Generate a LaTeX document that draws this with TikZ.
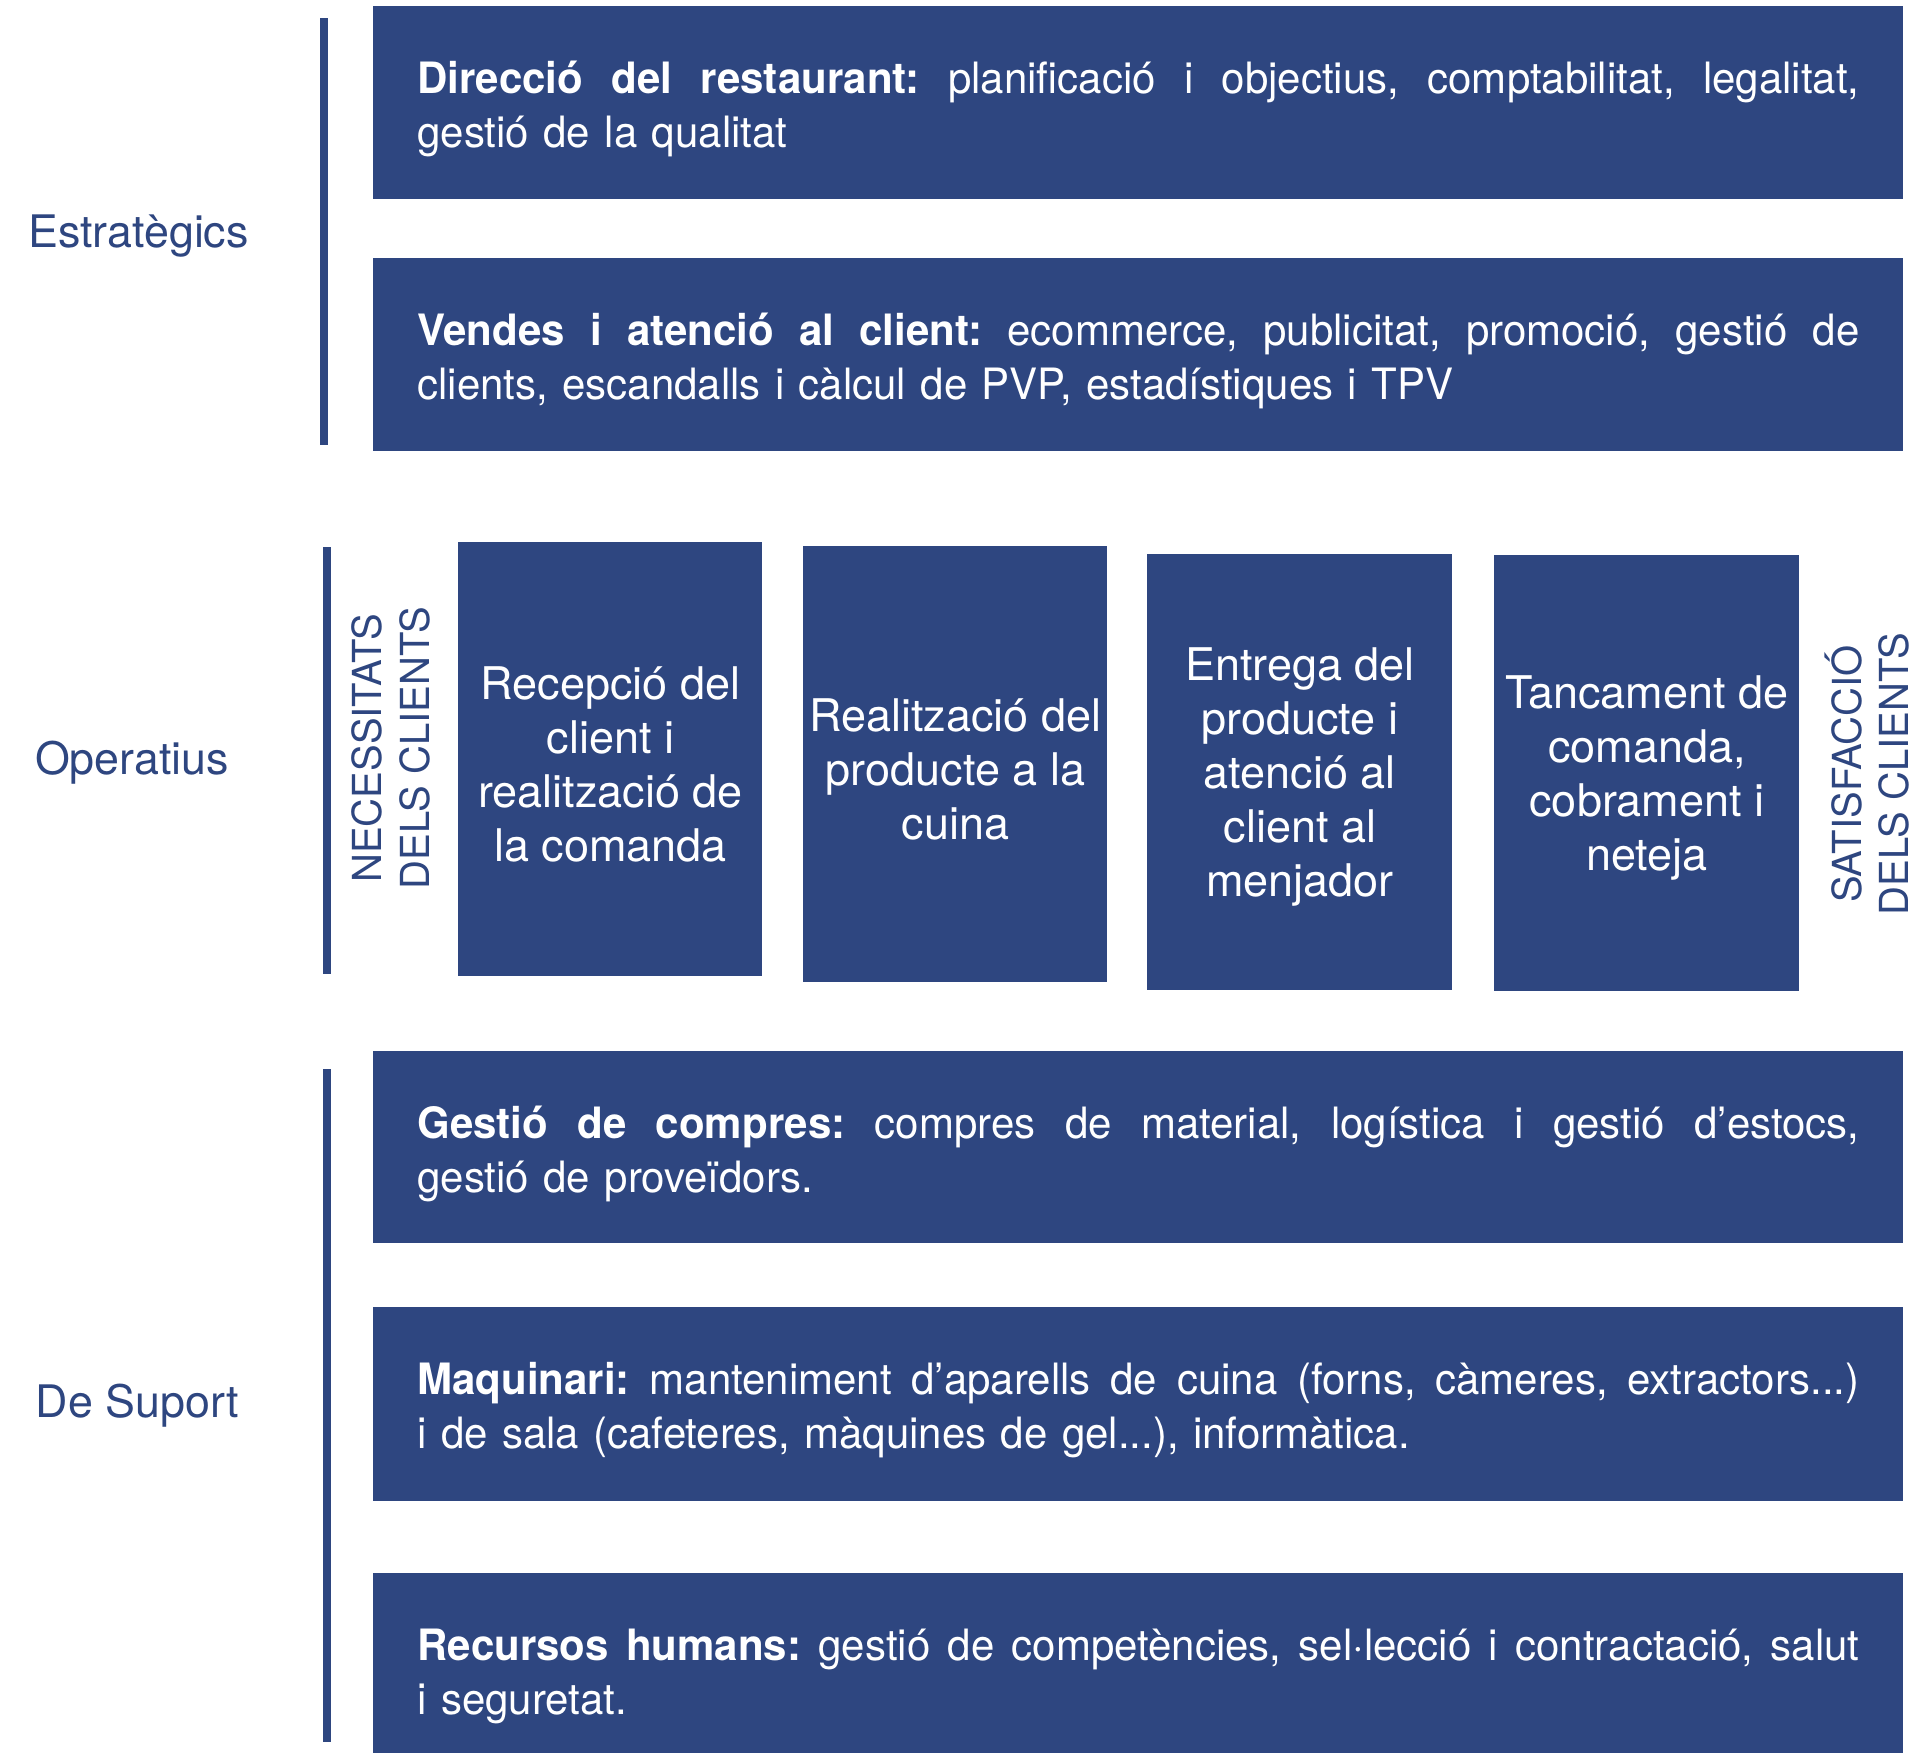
\documentclass[tikz,border=0pt]{standalone}
\usepackage{fontspec}
\setmainfont{TeX Gyre Heros}
\newfontfamily\boxfont{TeX Gyre Heros}[FakeStretch=0.972]
\usetikzlibrary{calc}
\definecolor{navy}{RGB}{46,70,128}
\newcommand{\firstline}[1]{\makebox[721pt][s]{\spaceskip=0pt\xspaceskip=0pt #1}}
\begin{document}
\begin{tikzpicture}[x=0.5pt,y=-0.5pt,
  box/.style={fill=navy, draw=none, inner sep=0pt, anchor=north west},
  widebox/.style={box, minimum width=765pt, minimum height=96.5pt},
  tallbox/.style={box, minimum width=152.5pt, minimum height=218pt},
  widetext/.style={text=white, text width=721pt, align=left, inner sep=0pt, anchor=base west, font=\boxfont\fontsize{21.6}{27}\selectfont\frenchspacing},
  talltext/.style={text=white, align=center, inner sep=0pt, yshift=-2.5pt, font=\fontsize{22.5}{27}\selectfont},
  cat/.style={text=navy, inner sep=0pt, anchor=base, font=\fontsize{22.4}{27}\selectfont},
  rot/.style={text=navy, inner sep=0pt, rotate=90, align=center, font=\fontsize{20}{23.75}\selectfont},
  bar/.style={draw=navy, line width=4pt}]
\useasboundingbox (0,0) rectangle (1926,1752);
\clip (0,0) rectangle (1926,1752);
\fill[white] (0,0) rectangle (1926,1752);

% category labels
\node[cat] (cE) at (138.5,247) {Estratègics};
\node[cat] (cO) at (132,774) {Operatius};
\node[cat] (cS) at (137.5,1417) {De Suport};

% brackets
\coordinate (e1) at (324,18);  \coordinate (e2) at (324,445);
\coordinate (o1) at (327,547); \coordinate (o2) at (327,974);
\coordinate (s1) at (327,1069); \coordinate (s2) at (327,1742);
\draw[bar] (e1) -- (e2);
\draw[bar] (o1) -- (o2);
\draw[bar] (s1) -- (s2);

% strategic boxes
\node[widebox] (b1) at (373,6) {};
\node[widebox] (b2) at (373,258) {};
\node[widetext] (t1) at ($(b1.north west)+(44,87)$) {\firstline{\textbf{Direcció del restaurant:} planificació i objectius, comptabilitat, legalitat,}\\gestió de la qualitat};
\node[widetext] (t2) at ($(b2.north west)+(44,87)$) {\firstline{\textbf{Vendes i atenció al client:} ecommerce, publicitat, promoció, gestió de}\\clients, escandalls i càlcul de PVP, estadístiques i TPV};

% operative
\node[rot] (nec) at (391,748) {NECESSITATS\\DELS CLIENTS};
\node[rot] (sat) at (1867,774) {SATISFACCIÓ\\DELS CLIENTS};
\node[tallbox, minimum width=152pt, minimum height=217pt] (p1) at (458,542) {};
\node[tallbox, minimum width=152pt] (p2) at (803,546) {};
\node[tallbox] (p3) at (1147,554) {};
\node[tallbox] (p4) at (1494,555) {};
\node[talltext] (q1) at (p1.center) {Recepció del\\client i\\realització de\\la comanda};
\node[talltext] (q2) at (p2.center) {Realització del\\producte a la\\cuina};
\node[talltext] (q3) at (p3.center) {Entrega del\\producte i\\atenció al\\client al\\menjador};
\node[talltext] (q4) at (p4.center) {Tancament de\\comanda,\\cobrament i\\neteja};

% support boxes
\node[widebox, minimum height=96pt] (b5) at (373,1051) {};
\node[widebox, minimum height=97pt] (b6) at (373,1307) {};
\node[widebox] (b7) at (373,1573) {};
\node[widetext] (t5) at ($(b5.north west)+(44,87)$) {\firstline{\textbf{Gestió de compres:} compres de material, logística i gestió d’estocs,}\\gestió de proveïdors.};
\node[widetext] (t6) at ($(b6.north west)+(44,87)$) {\firstline{\textbf{Maquinari:} manteniment d’aparells de cuina (forns, càmeres, extractors...)}\\i de sala (cafeteres, màquines de gel...), informàtica.};
\node[widetext] (t7) at ($(b7.north west)+(44,87)$) {\firstline{\textbf{Recursos humans:} gestió de competències, sel·lecció i contractació, salut}\\i seguretat.};
\end{tikzpicture}
\end{document}
